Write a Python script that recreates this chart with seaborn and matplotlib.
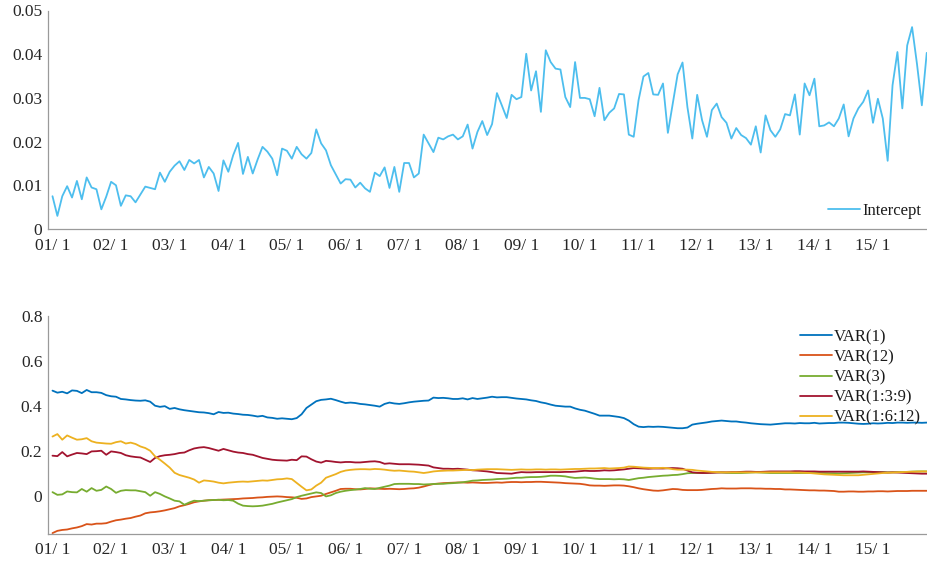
import numpy as np
import pandas as pd
import matplotlib
matplotlib.use("Agg")
import matplotlib.pyplot as plt
from matplotlib.ticker import MultipleLocator, FixedLocator, FixedFormatter
import seaborn as sns

# ---------------- data ----------------
year_labels = ["01/ 1", "02/ 1", "03/ 1", "04/ 1", "05/ 1", "06/ 1", "07/ 1", "08/ 1",
               "09/ 1", "10/ 1", "11/ 1", "12/ 1", "13/ 1", "14/ 1", "15/ 1"]

intercept = [
    0.0075, 0.0030, 0.0075, 0.0098, 0.0072, 0.0110, 0.0068, 0.0118, 0.0095, 0.0091,
    0.0045, 0.0074, 0.0108, 0.0100, 0.0053, 0.0077, 0.0075, 0.0061, 0.0079, 0.0097,
    0.0094, 0.0091, 0.0129, 0.0108, 0.0131, 0.0145, 0.0155, 0.0135, 0.0158, 0.0150,
    0.0158, 0.0118, 0.0142, 0.0127, 0.0087, 0.0157, 0.0131, 0.0169, 0.0197, 0.0126,
    0.0165, 0.0127, 0.0159, 0.0188, 0.0177, 0.0161, 0.0123, 0.0184, 0.0179, 0.0161,
    0.0188, 0.0171, 0.0161, 0.0174, 0.0228, 0.0196, 0.0180, 0.0146, 0.0125, 0.0104,
    0.0114, 0.0113, 0.0095, 0.0106, 0.0093, 0.0085, 0.0129, 0.0121, 0.0141, 0.0094,
    0.0142, 0.0085, 0.0151, 0.0151, 0.0118, 0.0127, 0.0216, 0.0196, 0.0176, 0.0209,
    0.0205, 0.0212, 0.0216, 0.0205, 0.0212, 0.0239, 0.0184, 0.0222, 0.0247, 0.0215,
    0.0240, 0.0311, 0.0283, 0.0254, 0.0307, 0.0297, 0.0302, 0.0401, 0.0317, 0.0361,
    0.0268, 0.0409, 0.0382, 0.0367, 0.0365, 0.0302, 0.0279, 0.0382, 0.0300, 0.0300,
    0.0297, 0.0258, 0.0323, 0.0249, 0.0266, 0.0276, 0.0309, 0.0308, 0.0216, 0.0211,
    0.0295, 0.0349, 0.0357, 0.0308, 0.0307, 0.0333, 0.0220, 0.0287, 0.0354, 0.0381,
    0.0279, 0.0207, 0.0307, 0.0249, 0.0211, 0.0272, 0.0287, 0.0256, 0.0243, 0.0207,
    0.0231, 0.0215, 0.0208, 0.0193, 0.0235, 0.0175, 0.0260, 0.0226, 0.0211, 0.0228,
    0.0263, 0.0260, 0.0308, 0.0216, 0.0333, 0.0306, 0.0344, 0.0235, 0.0237, 0.0244,
    0.0235, 0.0253, 0.0285, 0.0212, 0.0253, 0.0276, 0.0291, 0.0317, 0.0243, 0.0298,
    0.0253, 0.0156, 0.0329, 0.0405, 0.0276, 0.0420, 0.0462, 0.0378, 0.0283, 0.0403,
]

var1 = [
    0.467, 0.458, 0.462, 0.455, 0.468, 0.466, 0.456, 0.470, 0.460, 0.460,
    0.457, 0.447, 0.442, 0.440, 0.430, 0.428, 0.425, 0.423, 0.422, 0.424,
    0.418, 0.400, 0.395, 0.398, 0.386, 0.390, 0.384, 0.380, 0.377, 0.374,
    0.371, 0.370, 0.367, 0.362, 0.372, 0.368, 0.369, 0.365, 0.363, 0.360,
    0.359, 0.356, 0.352, 0.355, 0.348, 0.346, 0.342, 0.344, 0.342, 0.340,
    0.345, 0.362, 0.390, 0.405, 0.420, 0.426, 0.428, 0.431, 0.425, 0.418,
    0.412, 0.414, 0.412, 0.408, 0.406, 0.403, 0.400, 0.396, 0.408, 0.414,
    0.410, 0.408, 0.411, 0.415, 0.418, 0.420, 0.422, 0.423, 0.436, 0.434,
    0.435, 0.433, 0.430, 0.430, 0.433, 0.428, 0.434, 0.430, 0.433, 0.436,
    0.440, 0.437, 0.438, 0.438, 0.435, 0.432, 0.430, 0.428, 0.424, 0.421,
    0.415, 0.411, 0.405, 0.400, 0.398, 0.396, 0.396, 0.388, 0.382, 0.378,
    0.371, 0.364, 0.356, 0.356, 0.356, 0.353, 0.350, 0.345, 0.334, 0.318,
    0.307, 0.305, 0.307, 0.306, 0.307, 0.306, 0.304, 0.302, 0.300, 0.300,
    0.303, 0.316, 0.320, 0.323, 0.326, 0.330, 0.332, 0.334, 0.332, 0.330,
    0.330, 0.327, 0.325, 0.322, 0.320, 0.318, 0.317, 0.316, 0.318, 0.320,
    0.322, 0.322, 0.321, 0.323, 0.322, 0.322, 0.324, 0.321, 0.322, 0.323,
    0.323, 0.325, 0.325, 0.324, 0.322, 0.320, 0.319, 0.320, 0.322, 0.321,
    0.322, 0.324, 0.323, 0.325, 0.325, 0.324, 0.325, 0.325, 0.324, 0.325,
]

var12 = [
    -0.166, -0.156, -0.152, -0.150, -0.145, -0.141, -0.135, -0.126, -0.128, -0.124,
    -0.124, -0.122, -0.115, -0.109, -0.106, -0.102, -0.099, -0.093, -0.088, -0.078,
    -0.074, -0.072, -0.069, -0.065, -0.060, -0.055, -0.047, -0.042, -0.036, -0.029,
    -0.025, -0.022, -0.020, -0.019, -0.018, -0.017, -0.016, -0.015, -0.014, -0.012,
    -0.011, -0.010, -0.008, -0.007, -0.005, -0.004, -0.003, -0.004, -0.006, -0.007,
    -0.009, -0.014, -0.012, -0.006, -0.003, 0.000, 0.008, 0.015, 0.022, 0.030,
    0.031, 0.031, 0.029, 0.028, 0.030, 0.033, 0.032, 0.031, 0.030, 0.031,
    0.030, 0.029, 0.030, 0.032, 0.033, 0.036, 0.041, 0.047, 0.052, 0.054,
    0.056, 0.057, 0.058, 0.059, 0.059, 0.058, 0.059, 0.058, 0.057, 0.057,
    0.058, 0.059, 0.058, 0.060, 0.061, 0.061, 0.060, 0.061, 0.061, 0.062,
    0.062, 0.061, 0.060, 0.059, 0.058, 0.056, 0.055, 0.054, 0.053, 0.050,
    0.046, 0.045, 0.045, 0.044, 0.045, 0.046, 0.046, 0.045, 0.042, 0.038,
    0.033, 0.029, 0.026, 0.023, 0.022, 0.024, 0.027, 0.030, 0.029, 0.026,
    0.025, 0.025, 0.025, 0.026, 0.028, 0.030, 0.031, 0.033, 0.032, 0.032,
    0.032, 0.033, 0.033, 0.033, 0.032, 0.032, 0.031, 0.031, 0.030, 0.030,
    0.028, 0.028, 0.027, 0.026, 0.025, 0.024, 0.024, 0.023, 0.023, 0.022,
    0.021, 0.018, 0.018, 0.019, 0.019, 0.018, 0.018, 0.019, 0.019, 0.020,
    0.020, 0.019, 0.020, 0.021, 0.021, 0.021, 0.022, 0.022, 0.022, 0.022,
]

var3 = [
    0.016, 0.004, 0.006, 0.019, 0.016, 0.015, 0.030, 0.018, 0.034, 0.022,
    0.026, 0.041, 0.030, 0.013, 0.022, 0.025, 0.024, 0.024, 0.020, 0.016,
    0.000, 0.016, 0.008, -0.003, -0.012, -0.022, -0.025, -0.040, -0.030, -0.022,
    -0.024, -0.022, -0.020, -0.019, -0.018, -0.020, -0.019, -0.022, -0.035, -0.044,
    -0.046, -0.047, -0.046, -0.044, -0.040, -0.036, -0.030, -0.025, -0.020, -0.015,
    -0.006, 0.000, 0.005, 0.010, 0.015, 0.012, -0.003, 0.002, 0.012, 0.018,
    0.022, 0.025, 0.027, 0.030, 0.034, 0.031, 0.030, 0.035, 0.040, 0.045,
    0.052, 0.053, 0.053, 0.053, 0.052, 0.052, 0.050, 0.051, 0.052, 0.053,
    0.053, 0.055, 0.056, 0.058, 0.060, 0.063, 0.067, 0.068, 0.070, 0.071,
    0.072, 0.074, 0.075, 0.076, 0.078, 0.080, 0.080, 0.082, 0.083, 0.083,
    0.084, 0.086, 0.089, 0.089, 0.088, 0.086, 0.082, 0.079, 0.080, 0.081,
    0.079, 0.076, 0.074, 0.074, 0.074, 0.073, 0.074, 0.073, 0.070, 0.074,
    0.078, 0.080, 0.083, 0.085, 0.087, 0.089, 0.090, 0.092, 0.093, 0.096,
    0.100, 0.101, 0.101, 0.101, 0.102, 0.103, 0.104, 0.103, 0.102, 0.101,
    0.101, 0.101, 0.102, 0.103, 0.104, 0.103, 0.102, 0.101, 0.101, 0.101,
    0.101, 0.101, 0.101, 0.101, 0.101, 0.101, 0.101, 0.101, 0.101, 0.100,
    0.100, 0.099, 0.100, 0.101, 0.102, 0.103, 0.104, 0.104, 0.105, 0.105,
    0.105, 0.104, 0.104, 0.105, 0.105, 0.106, 0.107, 0.108, 0.108, 0.108,
]

var139 = [
    0.178, 0.176, 0.194, 0.175, 0.183, 0.190, 0.188, 0.185, 0.197, 0.198,
    0.200, 0.182, 0.197, 0.194, 0.190, 0.180, 0.175, 0.172, 0.170, 0.160,
    0.150, 0.168, 0.176, 0.180, 0.182, 0.185, 0.190, 0.192, 0.202, 0.210,
    0.214, 0.216, 0.212, 0.206, 0.200, 0.208, 0.202, 0.196, 0.192, 0.190,
    0.185, 0.182, 0.175, 0.168, 0.164, 0.160, 0.158, 0.157, 0.156, 0.160,
    0.158, 0.175, 0.174, 0.162, 0.152, 0.147, 0.155, 0.153, 0.150, 0.148,
    0.150, 0.150, 0.148, 0.148, 0.150, 0.152, 0.153, 0.150, 0.142, 0.144,
    0.142, 0.140, 0.140, 0.140, 0.139, 0.138, 0.136, 0.134, 0.126, 0.123,
    0.120, 0.120, 0.119, 0.120, 0.118, 0.116, 0.113, 0.112, 0.110, 0.108,
    0.105, 0.101, 0.100, 0.099, 0.098, 0.102, 0.105, 0.104, 0.104, 0.105,
    0.105, 0.105, 0.105, 0.105, 0.105, 0.106, 0.106, 0.107, 0.109, 0.111,
    0.110, 0.110, 0.111, 0.113, 0.112, 0.113, 0.115, 0.117, 0.120, 0.123,
    0.122, 0.121, 0.120, 0.121, 0.121, 0.121, 0.122, 0.123, 0.122, 0.120,
    0.112, 0.104, 0.102, 0.101, 0.101, 0.102, 0.103, 0.104, 0.104, 0.105,
    0.105, 0.106, 0.107, 0.107, 0.106, 0.106, 0.107, 0.108, 0.108, 0.108,
    0.108, 0.108, 0.109, 0.109, 0.108, 0.108, 0.108, 0.107, 0.107, 0.107,
    0.107, 0.107, 0.107, 0.107, 0.107, 0.107, 0.108, 0.107, 0.106, 0.105,
    0.104, 0.103, 0.104, 0.103, 0.102, 0.101, 0.100, 0.099, 0.098, 0.098,
]

var1612 = [
    0.263, 0.274, 0.249, 0.268, 0.258, 0.249, 0.251, 0.256, 0.242, 0.236,
    0.234, 0.232, 0.231, 0.238, 0.242, 0.232, 0.236, 0.230, 0.219, 0.212,
    0.200, 0.175, 0.160, 0.143, 0.125, 0.102, 0.092, 0.086, 0.080, 0.072,
    0.058, 0.068, 0.066, 0.063, 0.058, 0.055, 0.058, 0.060, 0.062, 0.063,
    0.062, 0.064, 0.066, 0.068, 0.067, 0.070, 0.073, 0.074, 0.077, 0.074,
    0.057, 0.040, 0.024, 0.028, 0.045, 0.058, 0.080, 0.088, 0.096, 0.106,
    0.112, 0.115, 0.117, 0.118, 0.118, 0.117, 0.119, 0.118, 0.116, 0.113,
    0.111, 0.112, 0.110, 0.108, 0.107, 0.104, 0.101, 0.104, 0.108, 0.110,
    0.111, 0.112, 0.112, 0.113, 0.114, 0.115, 0.114, 0.116, 0.117, 0.118,
    0.118, 0.118, 0.117, 0.116, 0.115, 0.116, 0.117, 0.116, 0.116, 0.117,
    0.117, 0.116, 0.117, 0.117, 0.116, 0.117, 0.118, 0.119, 0.119, 0.120,
    0.121, 0.121, 0.122, 0.123, 0.121, 0.122, 0.123, 0.125, 0.130, 0.129,
    0.127, 0.125, 0.124, 0.123, 0.123, 0.124, 0.122, 0.118, 0.116, 0.116,
    0.116, 0.115, 0.112, 0.110, 0.108, 0.106, 0.105, 0.104, 0.104, 0.104,
    0.104, 0.104, 0.104, 0.104, 0.104, 0.104, 0.104, 0.104, 0.104, 0.104,
    0.104, 0.104, 0.103, 0.103, 0.102, 0.101, 0.099, 0.097, 0.095, 0.094,
    0.093, 0.092, 0.091, 0.091, 0.091, 0.091, 0.093, 0.095, 0.097, 0.099,
    0.101, 0.102, 0.103, 0.104, 0.105, 0.106, 0.107, 0.107, 0.108, 0.108,
]

series_names = ["VAR(1)", "VAR(12)", "VAR(3)", "VAR(1:3:9)", "VAR(1:6:12)"]
series_values = [var1, var12, var3, var139, var1612]
series_colors = ["#0072BD", "#D95319", "#77AC30", "#A2142F", "#EDB120"]

# ---------------- style ----------------
sns.set_theme(style="white")
plt.rcParams["font.family"] = ["Liberation Serif", "DejaVu Serif"]
plt.rcParams["text.color"] = "#1a1a1a"

month = np.arange(len(intercept))
df_top = pd.DataFrame({"month": month, "value": intercept, "series": "Intercept"})
df_bot = pd.concat(
    [pd.DataFrame({"month": np.arange(len(v)), "value": v, "series": n})
     for n, v in zip(series_names, series_values)],
    ignore_index=True)

fig = plt.figure(figsize=(9.28, 5.65), dpi=100)
ax1 = fig.add_axes([48 / 928, (565 - 229) / 565, (928 - 48) / 928, (229 - 10.5) / 565])
ax2 = fig.add_axes([48 / 928, (565 - 534) / 565, (928 - 48) / 928, (534 - 315.7) / 565])

sns.lineplot(data=df_top, x="month", y="value", hue="series",
             palette={"Intercept": "#4DBEEE"}, linewidth=1.3, ax=ax1)
sns.lineplot(data=df_bot, x="month", y="value", hue="series",
             hue_order=series_names, palette=dict(zip(series_names, series_colors)),
             linewidth=1.3, ax=ax2)

major_pos = [12 * k for k in range(len(year_labels))]
spine_col = "#9a9a9a"
lab_col = "#262626"
for ax in (ax1, ax2):
    ax.set_xlim(-0.92, 179.26)
    ax.set_xlabel("")
    ax.set_ylabel("")
    ax.xaxis.set_major_locator(FixedLocator(major_pos))
    ax.xaxis.set_major_formatter(FixedFormatter(year_labels))
    ax.xaxis.set_minor_locator(MultipleLocator(2.4))
    for s in ("top", "right"):
        ax.spines[s].set_visible(False)
    for s in ("left", "bottom"):
        ax.spines[s].set_color(spine_col)
        ax.spines[s].set_linewidth(0.9)
    ax.tick_params(axis="both", which="both", direction="in", color=spine_col,
                   labelcolor=lab_col, labelsize=12.5, width=0.8)
    ax.tick_params(axis="both", which="major", length=5)
    ax.tick_params(axis="both", which="minor", length=3)
    ax.tick_params(axis="y", which="major", pad=4)
    ax.grid(False)
    ax.set_facecolor("white")

ax1.tick_params(axis="x", which="major", pad=6.5)
ax2.tick_params(axis="x", which="major", pad=5.5)

ax1.set_ylim(0, 0.05)
ax1.yaxis.set_major_locator(FixedLocator([0, 0.01, 0.02, 0.03, 0.04, 0.05]))
ax1.yaxis.set_major_formatter(FixedFormatter(["0", "0.01", "0.02", "0.03", "0.04", "0.05"]))
ax1.yaxis.set_minor_locator(MultipleLocator(0.002))

ax2.set_ylim(-0.17, 0.8)
ax2.yaxis.set_major_locator(FixedLocator([0, 0.2, 0.4, 0.6, 0.8]))
ax2.yaxis.set_major_formatter(FixedFormatter(["0", "0.2", "0.4", "0.6", "0.8"]))
ax2.yaxis.set_minor_locator(MultipleLocator(0.05))

leg1 = ax1.legend(loc="upper left", bbox_to_anchor=(828 / 928, 1 - 203 / 565),
                  bbox_transform=fig.transFigure, frameon=False, fontsize=12,
                  handlelength=1.9, handletextpad=0.15, borderpad=0, borderaxespad=0)
leg2 = ax2.legend(loc="upper left", bbox_to_anchor=(800 / 928, 1 - 329 / 565),
                  bbox_transform=fig.transFigure, frameon=False, fontsize=12,
                  handlelength=1.9, handletextpad=0.15, borderpad=0, borderaxespad=0,
                  labelspacing=0.25)
for leg in (leg1, leg2):
    for ln in leg.get_lines():
        ln.set_linewidth(1.3)

fig.savefig("out.png", dpi=100)
